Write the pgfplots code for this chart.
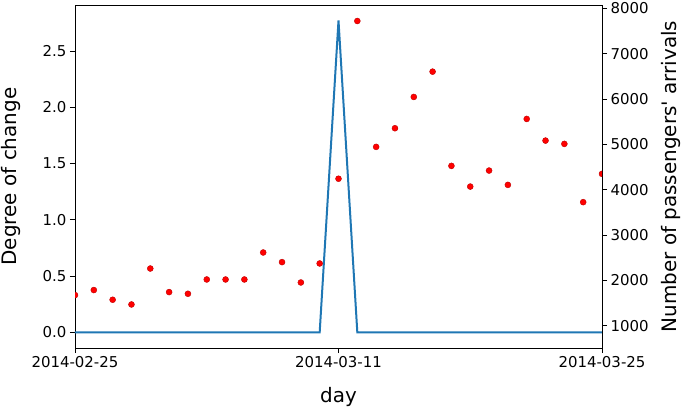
\documentclass[border=0pt]{standalone}
\usepackage{pgfplots}
\pgfplotsset{compat=1.18}
\usepackage{fontspec}
\setmainfont{DejaVu Sans}
\definecolor{mplblue}{HTML}{1F77B4}
\begin{document}
\begin{tikzpicture}
\pgfplotsset{
 every axis/.append style={
  at={(0,0)}, anchor=south west,
  scale only axis, width=527bp, height=343bp, xmin=0, xmax=28,
  tick align=outside, major tick length=5bp,
  tick style={black, line width=0.8bp},
  axis line style={black, line width=0.9bp},
  ticklabel style={font=\fontsize{15}{18}\selectfont},
  label style={font=\fontsize{20}{24}\selectfont},
  /pgf/number format/assume math mode=true,
  clip marker paths=true,
 }
}
\begin{axis}[
  ymin=-0.138, ymax=2.908,
  tick pos=left,
  xtick={0,14,28},
  xticklabels={2014-02-25,2014-03-11,2014-03-25},
  ytick={0,0.5,1,1.5,2,2.5},
  yticklabel style={/pgf/number format/fixed, /pgf/number format/fixed zerofill, /pgf/number format/precision=1},
  xlabel={day},
  ylabel={Degree of change},
  xlabel style={at={(axis description cs:0.5,-0.143)}, anchor=center},
  ylabel style={at={(axis description cs:-0.1205,0.5)}, anchor=center, rotate=0},
]
\addplot[mplblue, line width=2bp, no marks] coordinates {
(0,0) (1,0) (2,0) (3,0) (4,0) (5,0) (6,0) (7,0) (8,0) (9,0) (10,0) (11,0) (12,0) (13,0)
(14,2.77)
(15,0) (16,0) (17,0) (18,0) (19,0) (20,0) (21,0) (22,0) (23,0) (24,0) (25,0) (26,0) (27,0) (28,0)
};
\end{axis}
\begin{axis}[
  axis y line*=right, axis x line=none,
  ymin=509, ymax=8073,
  ytick={1000,2000,3000,4000,5000,6000,7000,8000},
  yticklabel style={/pgf/number format/1000 sep={}},
  ylabel={Number of passengers\textquotesingle\ arrivals},
  ylabel style={at={(axis description cs:1.131,0.5)}, anchor=center},
]
\addplot[only marks, mark=*, mark size=3bp, mark options={fill=red, draw=red!75!black, line width=0.4bp}] coordinates {
(0,1676) (1,1787) (2,1573) (3,1469) (4,2262) (5,1742) (6,1705) (7,2020) (8,2020) (9,2020)
(10,2615) (11,2403) (12,1954) (13,2373) (14,4242) (15,7720) (16,4944) (17,5355) (18,6045)
(19,6603) (20,4525) (21,4069) (22,4422) (23,4106) (24,5560) (25,5083) (26,5010) (27,3725) (28,4349)
};
\end{axis}
\pgfresetboundingbox
\useasboundingbox (-75bp,-63bp) rectangle (610bp,348bp);
\end{tikzpicture}
\end{document}
